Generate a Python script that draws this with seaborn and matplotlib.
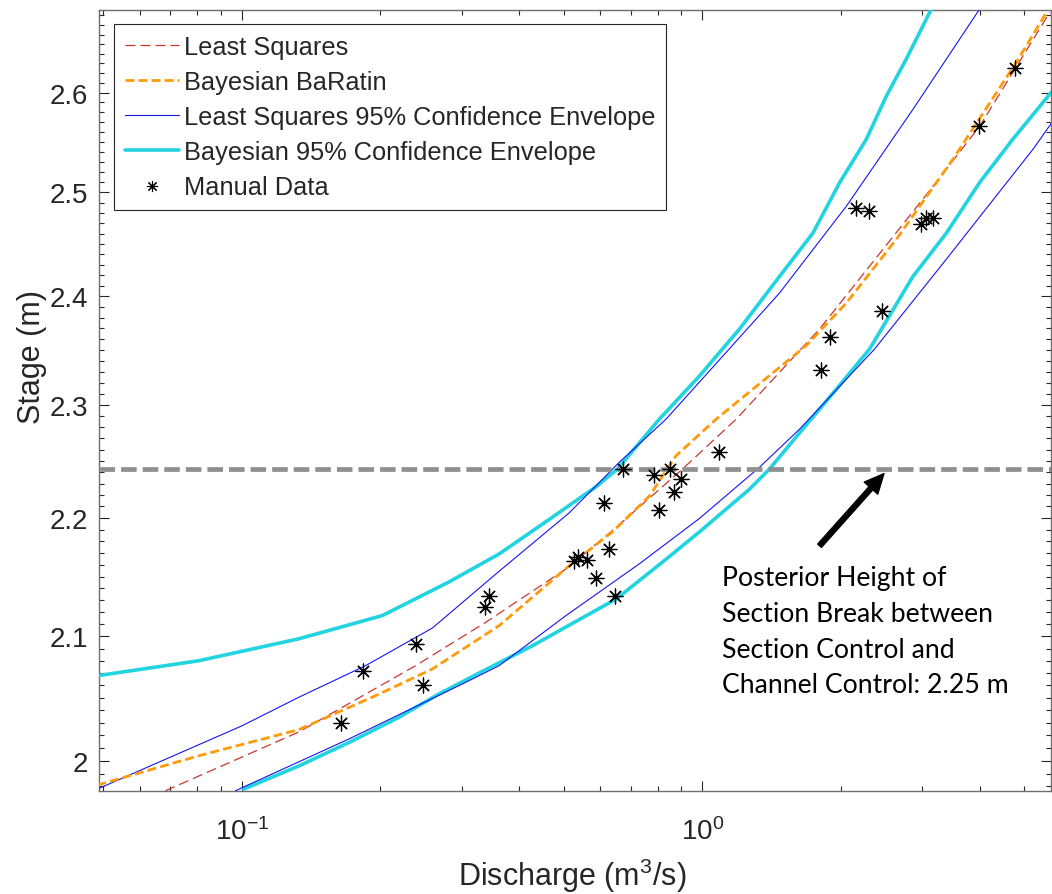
import numpy as np
import matplotlib
matplotlib.use('Agg')
import matplotlib.pyplot as plt
import seaborn as sns
from matplotlib.lines import Line2D
from matplotlib.ticker import FixedLocator, FixedFormatter, NullFormatter

# Least squares rating curve (Q in m3/s, stage in m)
ls_q = [0.0683, 0.133, 0.2385, 0.3387, 0.5055, 0.6374, 0.905, 1.184, 1.796, 3.012, 4.0, 5.68]
ls_h = [1.9766, 2.0227, 2.0761, 2.1118, 2.1565, 2.1891, 2.2427, 2.2871, 2.3695, 2.4936, 2.566, 2.6834]

# Bayesian BaRatin curve
bay_q = [0.0486, 0.0806, 0.133, 0.1953, 0.2593, 0.362, 0.5139, 0.6374, 0.767, 0.8766,
         1.071, 1.68, 2.053, 2.637, 3.5, 4.808, 5.587]
bay_h = [1.981, 2.0039, 2.0246, 2.0518, 2.0734, 2.109, 2.1592, 2.188, 2.219, 2.2545,
         2.2871, 2.3541, 2.3938, 2.4545, 2.533, 2.6315, 2.6834]

# least squares 95% envelope
ls_up_q = [0.0486, 0.1002, 0.133, 0.1857, 0.2593, 0.362, 0.5139, 0.66, 0.8338, 1.47, 2.053, 2.866, 4.0]
ls_up_h = [1.9779, 2.0277, 2.0505, 2.0761, 2.107, 2.1545, 2.2045, 2.2487, 2.2871, 2.4032, 2.4865, 2.5831, 2.6869]
ls_lo_q = [0.0969, 0.1709, 0.3064, 0.362, 0.5055, 0.7295, 0.985, 1.33, 1.625, 2.365, 3.387, 5.224, 5.738]
ls_lo_h = [1.9766, 2.0172, 2.0626, 2.0761, 2.1173, 2.1608, 2.1996, 2.2443, 2.2781, 2.351, 2.4355, 2.543, 2.5697]

# Bayesian 95% envelope
bay_up_q = [0.0486, 0.0806, 0.133, 0.2018, 0.2818, 0.362, 0.465, 0.5884, 0.6535, 0.8062,
            0.985, 1.2035, 1.47, 1.738, 1.9855, 2.27, 2.508, 2.773, 3.142]
bay_up_h = [2.0679, 2.0801, 2.0981, 2.1173, 2.1455, 2.1692, 2.1988, 2.2274, 2.2427, 2.2871,
            2.3261, 2.3695, 2.4189, 2.4606, 2.5097, 2.553, 2.5965, 2.6349, 2.6869]
bay_lo_q = [0.101, 0.133, 0.1734, 0.2195, 0.2681, 0.3275, 0.427, 0.6502, 0.835, 0.985,
            1.265, 1.398, 1.65, 1.936, 2.307, 2.861, 3.391, 4.0, 4.72, 5.738]
bay_lo_h = [1.9779, 1.9959, 2.0155, 2.0345, 2.0532, 2.0701, 2.0923, 2.1312, 2.1649, 2.188,
            2.225, 2.2427, 2.2781, 2.3122, 2.351, 2.4186, 2.4609, 2.51, 2.5529, 2.6011]

# manual gaugings
man_q = [0.1639, 0.1832, 0.2385, 0.2474, 0.337, 0.3443, 0.5269, 0.5357, 0.563, 0.5874,
         0.6278, 0.647, 0.6123, 0.6734, 0.7865, 0.8506, 0.8989, 0.8694, 0.8062, 1.089,
         1.805, 1.888, 2.159, 2.299, 2.459, 2.988, 3.064, 3.167, 3.988, 4.768]
man_h = [2.0298, 2.072, 2.0939, 2.0604, 2.1243, 2.1335, 2.1635, 2.1669, 2.1644, 2.1484,
         2.1734, 2.1335, 2.213, 2.2427, 2.2374, 2.2427, 2.2339, 2.2223, 2.2073, 2.258,
         2.3316, 2.3617, 2.4848, 2.4815, 2.386, 2.4696, 2.4754, 2.4754, 2.5663, 2.6253]

break_h = 2.243
y_major = [2.0, 2.1, 2.2, 2.3, 2.4, 2.5, 2.6]
y_major_labels = ['2', '2.1', '2.2', '2.3', '2.4', '2.5', '2.6']

c_ls = '#c8372d'
c_bay = '#ff9a0a'
c_blue = '#1515ee'
c_cyan = '#22d3e0'
dark = '#262626'

sns.set_style('ticks')
plt.rcParams['font.family'] = ['Liberation Sans', 'DejaVu Sans']
plt.rcParams['mathtext.fontset'] = 'custom'
plt.rcParams['mathtext.rm'] = 'Liberation Sans'
plt.rcParams['mathtext.it'] = 'Liberation Sans'

fig = plt.figure(figsize=(10.52, 8.95), dpi=100)
ax = fig.add_axes([0.0938, 0.1154, 0.9052, 0.8726])
ax.set_xscale('log')
ax.set_yscale('log')

ls_dash = (0, (8, 4))
bay_dash = (0, (3.2, 1.5))

sns.lineplot(x=ls_q, y=ls_h, ax=ax, estimator=None, sort=False, color=c_ls,
             linewidth=0.9, linestyle=ls_dash, zorder=3)
sns.lineplot(x=bay_q, y=bay_h, ax=ax, estimator=None, sort=False, color=c_bay,
             linewidth=2.0, linestyle=bay_dash, zorder=3.2)
for q, h in [(ls_up_q, ls_up_h), (ls_lo_q, ls_lo_h)]:
    sns.lineplot(x=q, y=h, ax=ax, estimator=None, sort=False, color=c_blue,
                 linewidth=0.8, zorder=3.1)
for q, h in [(bay_up_q, bay_up_h), (bay_lo_q, bay_lo_h)]:
    sns.lineplot(x=q, y=h, ax=ax, estimator=None, sort=False, color=c_cyan,
                 linewidth=2.6, zorder=2.9)

ax.axhline(break_h, color='#8f8f8f', linewidth=3.4, linestyle=(0, (3.3, 1.27)), zorder=4)

sns.scatterplot(x=man_q, y=man_h, ax=ax, marker=(8, 2, 0), s=115, color='black',
                linewidth=0.9, zorder=5, legend=False)

ax.set_xlim(0.0489, 5.71)
ax.set_ylim(1.9766, 2.686)

ax.yaxis.set_major_locator(FixedLocator(y_major))
ax.yaxis.set_major_formatter(FixedFormatter(y_major_labels))
ax.yaxis.set_minor_locator(FixedLocator(np.round(np.arange(1.97, 2.69, 0.01), 2)))
ax.yaxis.set_minor_formatter(NullFormatter())
ax.xaxis.set_minor_formatter(NullFormatter())

ax.tick_params(which='both', direction='in', top=True, right=True, color=dark, width=0.8)
ax.tick_params(which='major', length=7)
ax.tick_params(which='minor', length=3.6)
ax.tick_params(axis='both', labelsize=20, labelcolor=dark)
ax.tick_params(axis='x', pad=19)
ax.tick_params(axis='y', pad=7.5)
for s in ax.spines.values():
    s.set_color('#6e6e6e')
    s.set_linewidth(1.0)

ax.set_xlabel('Discharge (m$^3$/s)', fontsize=22, color=dark)
ax.set_ylabel('Stage (m)', fontsize=22, color=dark)
ax.xaxis.set_label_coords(0.497, -0.083)
ax.yaxis.set_label_coords(-0.054, 0.556)

handles = [
    Line2D([], [], color=c_ls, linewidth=0.9, linestyle=ls_dash),
    Line2D([], [], color=c_bay, linewidth=2.0, linestyle=bay_dash),
    Line2D([], [], color=c_blue, linewidth=0.8),
    Line2D([], [], color=c_cyan, linewidth=2.6),
    Line2D([], [], linestyle='none', marker=(8, 2, 0), markersize=8,
           markeredgecolor='black', markeredgewidth=0.8),
]
labels = ['Least Squares', 'Bayesian BaRatin', 'Least Squares 95% Confidence Envelope',
          'Bayesian 95% Confidence Envelope', 'Manual Data']
leg = ax.legend(handles, labels, loc='upper left', bbox_to_anchor=(0.0166, 0.9817),
                borderaxespad=0, fontsize=18.3, frameon=True, fancybox=False,
                edgecolor=dark, framealpha=1, handlelength=2.1, handletextpad=0.2,
                labelspacing=0.44, borderpad=0.42)
leg.get_frame().set_linewidth(0.8)

ax.annotate('', xy=(2.478, 2.2387), xytext=(1.796, 2.1762),
            arrowprops=dict(facecolor='black', edgecolor='black', width=3.6,
                            headwidth=13, headlength=14, shrink=0), zorder=6)
ax.text(0.6545, 0.289,
        'Posterior Height of\nSection Break between\nSection Control and\nChannel Control: 2.25 m',
        transform=ax.transAxes, ha='left', va='top', fontsize=19.2, color='black',
        family=['Lato', 'DejaVu Sans'], linespacing=1.54)

fig.savefig('out.png', dpi=100)
